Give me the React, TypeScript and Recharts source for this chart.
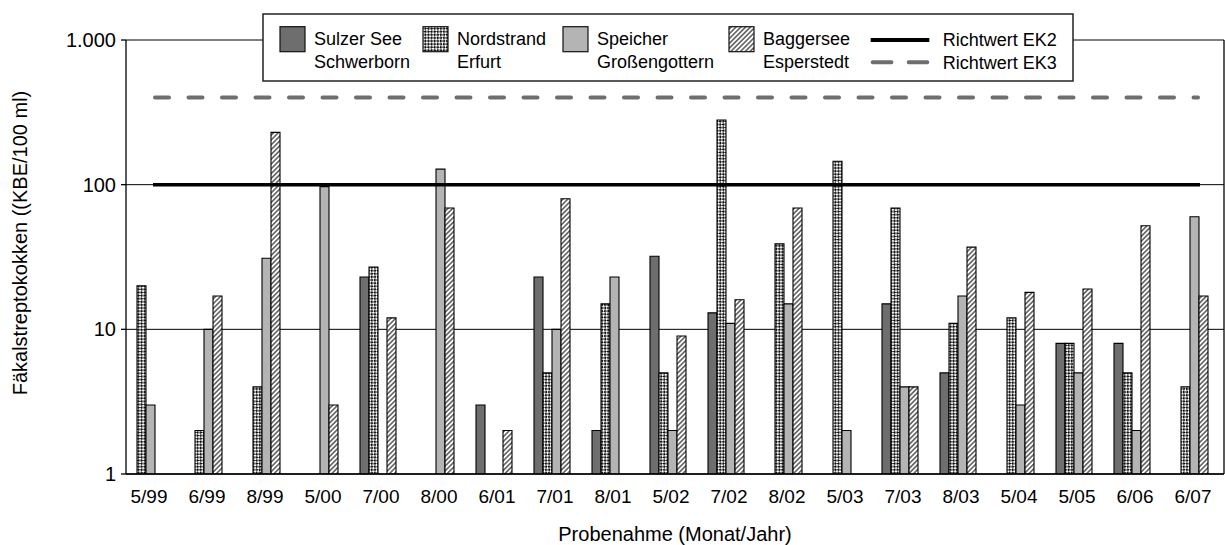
import React from 'react';
import { BarChart, Bar, XAxis, YAxis, CartesianGrid, ReferenceLine, Legend, Label } from 'recharts';

// ---------- data ----------
const categories = ['5/99', '6/99', '8/99', '5/00', '7/00', '8/00', '6/01', '7/01', '8/01', '5/02', '7/02', '8/02', '5/03', '7/03', '8/03', '5/04', '5/05', '6/06', '6/07'];
const sulzerSee = [null, null, null, null, 23, null, 3, 23, 2, 32, 13, null, null, 15, 5, null, 8, 8, null];
const nordstrand = [20, 2, 4, null, 27, null, null, 5, 15, 5, 280, 39, 145, 69, 11, 12, 8, 5, 4];
const speicher = [3, 10, 31, 97, null, 128, null, 10, 23, 2, 11, 15, 2, 4, 17, 3, 5, 2, 60];
const baggersee = [null, 17, 230, 3, 12, 69, 2, 80, null, 9, 16, 69, null, 4, 37, 18, 19, 52, 17];
const yTicks = [1, 10, 100, 1000];
const richtwertEK2 = 100;
const richtwertEK3 = 400;

const seriesLabels = [
  ['Sulzer See', 'Schwerborn'],
  ['Nordstrand', 'Erfurt'],
  ['Speicher', 'Großengottern'],
  ['Baggersee', 'Esperstedt'],
];
const lineLabels = ['Richtwert EK2', 'Richtwert EK3'];
const xTitle = 'Probenahme (Monat/Jahr)';
const yTitle = 'Fäkalstreptokokken ((KBE/100 ml)';

const data = categories.map((c, i) => ({
  cat: c,
  s0: sulzerSee[i],
  s1: nordstrand[i],
  s2: speicher[i],
  s3: baggersee[i],
}));

// ---------- styles ----------
const FONT = 'Arial, "Liberation Sans", Helvetica, sans-serif';
const fills = ['#6e6e6e', 'url(#patNord)', '#b4b4b4', 'url(#patBagger)'];
const swatchFills = fills;
const EK3_COLOR = '#6e6e6e';
const BAR_STROKE = '#000';

const fmt = (v: number) => String(v).replace(/\B(?=(\d{3})+(?!\d))/g, '.');

const XTick = (props: any) => {
  const { x, y, payload } = props;
  return (
    <text x={x + 4} y={y} dy={21} textAnchor="middle" fontSize={19} fill="#000" fontFamily={FONT}>
      {payload.value}
    </text>
  );
};

const XTitle = (props: any) => {
  const vb = props.viewBox;
  return (
    <text x={vb.x + vb.width / 2} y={vb.y + 66.7} textAnchor="middle" fontSize={20} fill="#000" fontFamily={FONT}>
      {xTitle}
    </text>
  );
};

const YTitle = (props: any) => {
  const vb = props.viewBox;
  const cx = vb.x + 26.5;
  const cy = vb.y + vb.height / 2 - 14;
  return (
    <text x={cx} y={cy} transform={`rotate(-90 ${cx} ${cy})`} textAnchor="middle" fontSize={20} fill="#000" fontFamily={FONT}>
      {yTitle}
    </text>
  );
};

const swatchCols = [18, 161, 301, 467];
const LegendBox = () => (
  <svg width={812} height={70} style={{ display: 'block' }} fontFamily={FONT}>
    <rect x={1} y={1} width={810} height={67} fill="#fff" stroke="#222" strokeWidth={1.5} />
    {seriesLabels.map((lines, i) => (
      <g key={i}>
        <rect x={swatchCols[i]} y={13.7} width={25} height={25} fill={swatchFills[i]} stroke="#111" strokeWidth={1.2} />
        <text x={swatchCols[i] + 34} y={32} fontSize={18} fill="#000">{lines[0]}</text>
        <text x={swatchCols[i] + 34} y={55} fontSize={18} fill="#000">{lines[1]}</text>
      </g>
    ))}
    <line x1={608.7} x2={667.3} y1={27} y2={27} stroke="#000" strokeWidth={4} />
    <line x1={610.7} x2={665.3} y1={49.3} y2={49.3} stroke={EK3_COLOR} strokeWidth={4} strokeDasharray="18.7 17.3" strokeLinecap="round" />
    <text x={680.7} y={33} fontSize={18} fill="#000">{lineLabels[0]}</text>
    <text x={680.7} y={56} fontSize={18} fill="#000">{lineLabels[1]}</text>
  </svg>
);

const makeLineShape = (color: string, width: number, dash?: string) => (p: any) => (
  <line
    x1={p.x1 + 8 + (dash ? 2 : 0)}
    x2={p.x2 + 11 - (dash ? 2 : 0)}
    y1={p.y1}
    y2={p.y2}
    stroke={color}
    strokeWidth={width}
    strokeDasharray={dash}
    strokeLinecap={dash ? 'round' : 'butt'}
  />
);

export default function App() {
  const first = categories[0];
  const last = categories[categories.length - 1];
  return (
    <div style={{ position: 'absolute', left: 0, top: 0, width: 1225, height: 545, background: '#fff', fontFamily: FONT }}>
      <svg width={0} height={0} style={{ position: 'absolute' }}>
        <defs>
          <pattern id="patNord" width={4.4} height={4.4} patternUnits="userSpaceOnUse" patternTransform="rotate(45)">
            <rect width={4.4} height={4.4} fill="#111" />
            <rect width={2.2} height={2.2} fill="#fff" />
            <rect x={2.2} y={2.2} width={2.2} height={2.2} fill="#fff" />
          </pattern>
          <pattern id="patBagger" width={3.4} height={3.4} patternUnits="userSpaceOnUse" patternTransform="rotate(45)">
            <rect width={3.4} height={3.4} fill="#fff" />
            <line x1={1.7} y1={0} x2={1.7} y2={3.4} stroke="#000" strokeWidth={1} />
          </pattern>
        </defs>
      </svg>
      <BarChart
        width={1225}
        height={545}
        data={data}
        margin={{ top: 40, right: 0, bottom: 0, left: 0 }}
        barCategoryGap={12}
        barGap={0}
      >
        <CartesianGrid vertical={false} stroke="#000" strokeWidth={1} />
        <XAxis
          dataKey="cat"
          interval={0}
          tickLine={false}
          axisLine={{ stroke: '#000', strokeWidth: 1.3 }}
          height={71}
          padding={{ left: -10, right: 6 }}
          tick={<XTick />}
        >
          <Label content={XTitle} />
        </XAxis>
        <YAxis
          scale="log"
          type="number"
          domain={[1, 1000]}
          ticks={yTicks}
          interval={0}
          allowDataOverflow
          width={126}
          tickSize={5}
          tickMargin={5}
          axisLine={{ stroke: '#000', strokeWidth: 1.3 }}
          tickLine={{ stroke: '#000', strokeWidth: 1.3 }}
          tick={{ fontSize: 20, fill: '#000' }}
          tickFormatter={fmt}
        >
          <Label content={YTitle} />
        </YAxis>
        <YAxis
          yAxisId="r"
          orientation="right"
          width={1}
          domain={[0, 1]}
          tick={false}
          tickLine={false}
          axisLine={{ stroke: '#000', strokeWidth: 1.3 }}
        />
        <Bar dataKey="s0" name={seriesLabels[0].join(' ')} fill={fills[0]} stroke={BAR_STROKE} strokeWidth={1.1} isAnimationActive={false} />
        <Bar dataKey="s1" name={seriesLabels[1].join(' ')} fill={fills[1]} stroke={BAR_STROKE} strokeWidth={1.1} isAnimationActive={false} />
        <Bar dataKey="s2" name={seriesLabels[2].join(' ')} fill={fills[2]} stroke={BAR_STROKE} strokeWidth={1.1} isAnimationActive={false} />
        <Bar dataKey="s3" name={seriesLabels[3].join(' ')} fill={fills[3]} stroke={BAR_STROKE} strokeWidth={1.1} isAnimationActive={false} />
        <ReferenceLine
          segment={[{ x: first, y: richtwertEK3 }, { x: last, y: richtwertEK3 }]}
          shape={makeLineShape(EK3_COLOR, 4, '14 19.5')}
        />
        <ReferenceLine
          segment={[{ x: first, y: richtwertEK2 }, { x: last, y: richtwertEK2 }]}
          shape={makeLineShape('#000', 3.5)}
        />
        <Legend
          layout="horizontal"
          verticalAlign="middle"
          align="center"
          wrapperStyle={{ top: 13, left: 262, width: 812, height: 70 }}
          content={() => <LegendBox />}
        />
      </BarChart>
    </div>
  );
}
